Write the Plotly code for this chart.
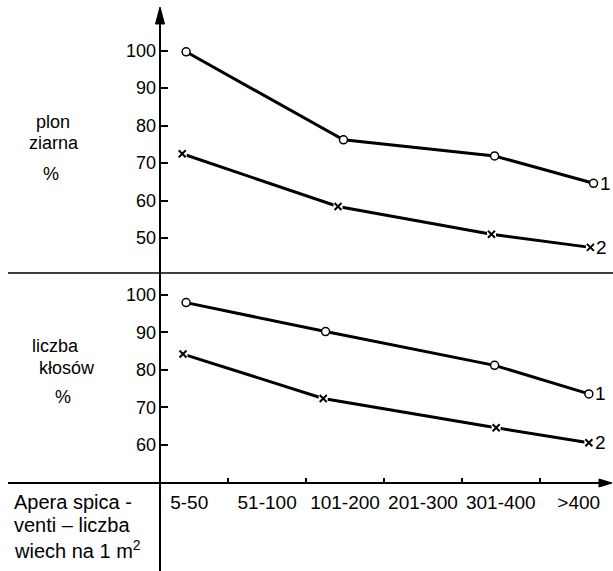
import plotly.graph_objects as go

# ---------------- data ----------------
categories = ["5-50", "51-100", "101-200", "201-300", "301-400", ">400"]
cat_pos = [0, 1, 2, 3, 4, 5]
bin_edges = [0.5, 1.5, 2.5, 3.5, 4.5]

# upper panel: plon ziarna %
yield_x1 = [-0.04, 1.98, 3.92, 5.19]
yield_s1 = [99.7, 76.2, 71.9, 64.6]
yield_x2 = [-0.09, 1.91, 3.88, 5.15]
yield_s2 = [72.5, 58.4, 51.0, 47.5]

# lower panel: liczba kłosów %
ears_x1 = [-0.04, 1.75, 3.92, 5.13]
ears_s1 = [97.9, 90.2, 81.2, 73.6]
ears_x2 = [-0.08, 1.72, 3.94, 5.13]
ears_s2 = [84.2, 72.4, 64.6, 60.6]

yield_ticks = [50, 60, 70, 80, 90, 100]
ears_ticks = [60, 70, 80, 90, 100]
series_names = ["1", "2"]

# ---------------- figure ----------------
W, H = 613, 571
FONT = "Liberation Sans, Arial, sans-serif"


def px(x):
    return x / W


def py(y):
    return 1 - y / H


fig = go.Figure()


def add_series(xs, ys, yref, kind, name):
    fig.add_trace(go.Scatter(x=xs, y=ys, xaxis="x", yaxis=yref, mode="lines",
                             line=dict(color="black", width=3), hoverinfo="skip"))
    if kind == "o":
        fig.add_trace(go.Scatter(x=xs, y=ys, xaxis="x", yaxis=yref, mode="markers",
                                 marker=dict(symbol="circle", size=8, color="white",
                                             line=dict(color="black", width=1.5))))
    else:
        fig.add_trace(go.Scatter(x=xs, y=ys, xaxis="x", yaxis=yref, mode="markers",
                                 marker=dict(symbol="square", size=9, color="white",
                                             line=dict(width=0))))
        fig.add_trace(go.Scatter(x=xs, y=ys, xaxis="x", yaxis=yref, mode="markers",
                                 marker=dict(symbol="x-thin", size=7, color="black",
                                             line=dict(color="black", width=2))))
    fig.add_annotation(x=xs[-1], y=ys[-1], xref="x", yref=yref, text=name,
                       showarrow=False, xanchor="left", yanchor="middle", xshift=4,
                       font=dict(size=19, family=FONT, color="black"))


add_series(yield_x1, yield_s1, "y", "o", series_names[0])
add_series(yield_x2, yield_s2, "y", "x", series_names[1])
add_series(ears_x1, ears_s1, "y2", "o", series_names[0])
add_series(ears_x2, ears_s2, "y2", "x", series_names[1])

yax_common = dict(anchor="free", position=px(160), side="left", ticks="inside",
                  ticklen=7, tickwidth=1.5, tickcolor="black", showline=False,
                  showgrid=False, zeroline=False, ticklabelstandoff=4,
                  tickfont=dict(size=18, family=FONT, color="black"))

fig.update_layout(
    width=W, height=H,
    margin=dict(l=0, r=0, t=0, b=0),
    paper_bgcolor="white", plot_bgcolor="white",
    showlegend=False,
    xaxis=dict(domain=[0, 1], range=[-2.429, 5.440], anchor="y2",
               tickmode="array", tickvals=cat_pos, ticktext=categories,
               ticks="", showline=False, showgrid=False, zeroline=False,
               ticklabelstandoff=6,
               tickfont=dict(size=19, family=FONT, color="black"),
               minor=dict(tickmode="array", tickvals=bin_edges, ticks="inside",
                          ticklen=5, tickwidth=1.5, tickcolor="black", showgrid=False)),
    yaxis=dict(domain=[py(273), 1], range=[40.66, 113.53], tickvals=yield_ticks,
               **yax_common),
    yaxis2=dict(domain=[py(483), py(273)], range=[49.89, 105.78], tickvals=ears_ticks,
                **yax_common),
)

# axis lines and arrows
shapes = [
    dict(type="line", xref="paper", yref="paper", x0=px(160), x1=px(160),
         y0=0, y1=py(20), line=dict(color="black", width=2)),
    dict(type="path", xref="paper", yref="paper",
         path=f"M {px(160)} {py(7)} L {px(155.5)} {py(24)} L {px(164.5)} {py(24)} Z",
         fillcolor="black", line=dict(color="black", width=1)),
    dict(type="line", xref="paper", yref="paper", x0=px(8), x1=1,
         y0=py(273), y1=py(273), line=dict(color="black", width=1.5)),
    dict(type="line", xref="paper", yref="paper", x0=px(8), x1=px(602),
         y0=py(483), y1=py(483), line=dict(color="black", width=2)),
    dict(type="path", xref="paper", yref="paper",
         path=f"M {px(612)} {py(483)} L {px(599)} {py(479)} L {px(599)} {py(487)} Z",
         fillcolor="black", line=dict(color="black", width=1)),
]
fig.update_layout(shapes=shapes)

# panel titles and x-axis description
texts = [
    ("plon", 53, 122, "center"),
    ("ziarna", 54, 143, "center"),
    ("%", 51, 174, "center"),
    ("liczba", 55, 346, "center"),
    ("kłosów", 67, 368, "center"),
    ("%", 63, 397, "center"),
]
for t, x, y, al in texts:
    fig.add_annotation(x=px(x), y=py(y), xref="paper", yref="paper", text=t,
                       showarrow=False, xanchor=al, yanchor="middle",
                       font=dict(size=18, family=FONT, color="black"))

desc = [("Apera spica -", 502), ("venti – liczba", 525), ("wiech na 1 m<sup>2</sup>", 549)]
for t, y in desc:
    fig.add_annotation(x=px(12), y=py(y), xref="paper", yref="paper", text=t,
                       showarrow=False, xanchor="left", yanchor="middle",
                       font=dict(size=20, family=FONT, color="black"))

fig.write_html("out.html",
               config={"displayModeBar": False},
               post_script="document.body.style.margin='0';document.body.style.overflow='hidden';")
